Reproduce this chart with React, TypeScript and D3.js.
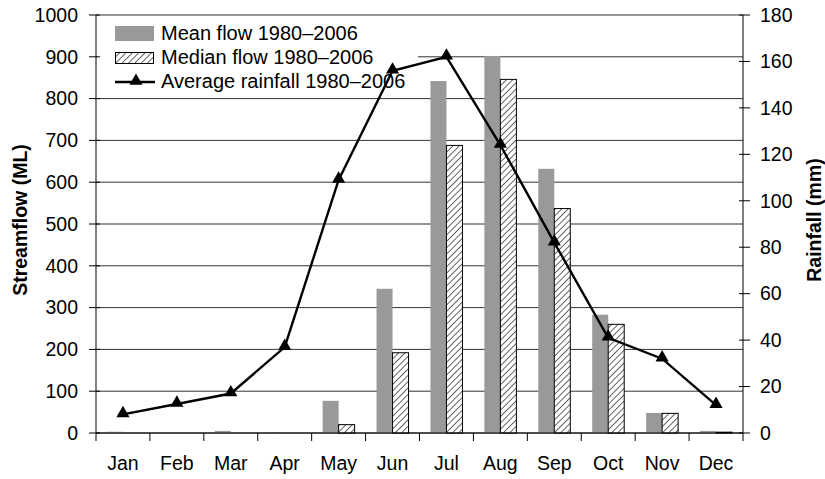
import React from "react";
import * as d3 from "d3";

const months = ["Jan", "Feb", "Mar", "Apr", "May", "Jun", "Jul", "Aug", "Sep", "Oct", "Nov", "Dec"];
const meanFlow = [3, 0, 5, 2, 77, 345, 842, 902, 632, 283, 48, 5];
const medianFlow = [0, 0, 0, 0, 20, 192, 688, 846, 537, 260, 47, 2];
const rainfall = [8, 12.5, 17, 37, 109, 156, 162, 124, 82, 41, 32, 12];
const flowTicks = [0, 100, 200, 300, 400, 500, 600, 700, 800, 900, 1000];
const rainTicks = [0, 20, 40, 60, 80, 100, 120, 140, 160, 180];
const legendLabels = ["Mean flow 1980–2006", "Median flow 1980–2006", "Average rainfall 1980–2006"];

export default function App() {
  const W = 825, H = 479;
  const left = 96, right = 743, top = 15, bottom = 433;
  const x = d3.scaleBand().domain(months).range([left, right]).padding(0);
  const yL = d3.scaleLinear().domain([0, 1000]).range([bottom, top]);
  const yR = d3.scaleLinear().domain([0, 180]).range([bottom, top]);
  const bw = 16;
  const font = "'Liberation Sans', Arial, sans-serif";
  const fs = 19.5;
  const line = d3.line<number>().x((_, i) => x(months[i])! + x.bandwidth() / 2).y(d => yR(d));
  const tri = d3.symbol().type(d3.symbolTriangle).size(75)();
  return (
    <svg width={W} height={H} style={{ position: "absolute", left: 0, top: 0, fontFamily: font }}>
      <defs>
        <pattern id="hatch" patternUnits="userSpaceOnUse" width="4.5" height="4.5" patternTransform="rotate(45)">
          <rect width="4.5" height="4.5" fill="white" />
          <line x1="0" y1="0" x2="0" y2="4.5" stroke="#333" strokeWidth="1.5" />
        </pattern>
      </defs>
      <rect x={0} y={0} width={W} height={H} fill="white" />
      {flowTicks.map(t => (
        <line key={"g" + t} x1={left} x2={right} y1={yL(t)} y2={yL(t)} stroke="#333" strokeWidth={1} />
      ))}
      {months.map((m, i) => (
        <g key={m}>
          <rect x={x(m)! + x.bandwidth() / 2 - bw} y={yL(meanFlow[i])} width={bw} height={bottom - yL(meanFlow[i])} fill="#999999" />
          {medianFlow[i] > 0 && (
            <rect x={x(m)! + x.bandwidth() / 2} y={yL(medianFlow[i])} width={bw} height={bottom - yL(medianFlow[i])} fill="url(#hatch)" stroke="#000" strokeWidth={1} />
          )}
        </g>
      ))}
      {/* legend background */}
      <rect x={97} y={17} width={321} height={76} fill="white" />
      <path d={line(rainfall) || ""} fill="none" stroke="#000" strokeWidth={2.4} />
      {rainfall.map((r, i) => (
        <path key={"t" + i} d={tri || ""} transform={`translate(${x(months[i])! + x.bandwidth() / 2},${yR(r) - 1})`} fill="#000" />
      ))}
      {/* axes */}
      <line x1={left} x2={left} y1={top} y2={bottom} stroke="#000" />
      <line x1={right} x2={right} y1={top} y2={bottom} stroke="#000" />
      <line x1={left} x2={right} y1={bottom} y2={bottom} stroke="#000" />
      {flowTicks.map(t => (
        <g key={"l" + t}>
          <line x1={left - 7} x2={left + 4} y1={yL(t)} y2={yL(t)} stroke="#000" />
          <text x={78} y={yL(t)} dy="0.35em" textAnchor="end" fontSize={fs} fill="#000">{t}</text>
        </g>
      ))}
      {rainTicks.map(t => (
        <g key={"r" + t}>
          <line x1={right - 4} x2={right + 7} y1={yR(t)} y2={yR(t)} stroke="#000" />
          <text x={760} y={yR(t)} dy="0.35em" textAnchor="start" fontSize={fs} fill="#000">{t}</text>
        </g>
      ))}
      {months.map((m, i) => (
        <g key={"x" + m}>
          <line x1={x(m)!} x2={x(m)!} y1={bottom} y2={bottom + 8} stroke="#000" />
          <text x={x(m)! + x.bandwidth() / 2} y={463} dy="0.35em" textAnchor="middle" fontSize={fs} fill="#000">{m}</text>
        </g>
      ))}
      <line x1={right} x2={right} y1={bottom} y2={bottom + 8} stroke="#000" />
      <text transform={`translate(20,220) rotate(-90)`} textAnchor="middle" dy="0.35em" fontSize={fs} fontWeight="bold">Streamflow (ML)</text>
      <text transform={`translate(814,220) rotate(-90)`} textAnchor="middle" dy="0.35em" fontSize={fs} fontWeight="bold">Rainfall (mm)</text>
      {/* legend */}
      <rect x={115} y={26} width={39} height={15} fill="#999999" />
      <rect x={115.5} y={52.5} width={38} height={11} fill="url(#hatch)" stroke="#000" />
      <line x1={115} x2={155} y1={82} y2={82} stroke="#000" strokeWidth={2.4} />
      <path d={tri || ""} transform="translate(136,81)" fill="#000" />
      {legendLabels.map((l, i) => (
        <text key={l} x={161} y={33 + i * 24} dy="0.35em" fontSize={20} fill="#000">{l}</text>
      ))}
    </svg>
  );
}
